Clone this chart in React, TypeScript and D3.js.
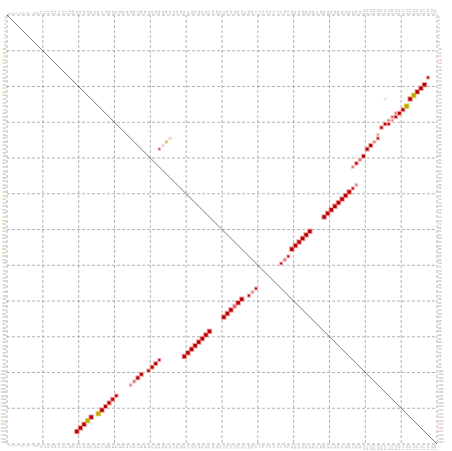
import * as d3 from "d3";

// 120 x 120 dot-plot matrix, one square per aligned cell
const N = 120;
const tickLabels = d3.range(1, N + 1).map(String);

// aligned cells: column, row, score, colour group (r = red, p = pale, y = yellow, f = faint)
const dotCol = [
  19, 20, 21, 22, 23, 25, 26, 27, 28, 29, 30, 34, 35, 36, 37, 39, 40, 41, 42,
  49, 50, 51, 52, 53, 54, 55, 56, 60, 61, 62, 63, 64, 65, 67, 68, 69,
  76, 77, 78, 79, 80, 81, 82, 83, 84, 88, 89, 90, 91, 92, 93, 94, 95, 96, 97,
  96, 97, 98, 99, 100, 101, 102, 103, 103, 104, 105, 106, 106, 107, 107, 108, 108,
  109, 110, 111, 112, 113, 114, 115, 116, 117,
  42, 43, 44, 45, 105,
];
const dotRow = [
  116, 115, 114, 113, 112, 111, 110, 109, 108, 107, 106, 103, 102, 101, 100, 99, 98, 97, 96,
  95, 94, 93, 92, 91, 90, 89, 88, 84, 83, 82, 81, 80, 79, 78, 77, 76,
  69, 68, 67, 65, 64, 63, 62, 61, 60, 56, 55, 54, 53, 52, 51, 50, 49, 48, 47,
  42, 41, 40, 39, 37, 36, 35, 34, 33, 31, 30, 30, 29, 29, 28, 28, 27,
  27, 26, 25, 23, 22, 21, 20, 19, 17,
  37, 36, 35, 34, 23,
];
const dotScore = [
  3, 3, 3, 3, 3, 3, 3, 2.6, 2.6, 2.6, 2, 1.5, 2, 2.5, 2.5, 2, 2.5, 2.5, 1.6,
  3, 3, 3, 3, 3, 3, 3, 3, 3, 3, 3, 2.8, 3, 3, 1.6, 1.6, 1.6,
  1.5, 2, 1.5, 3, 3, 3, 3, 3, 3, 3, 3, 3, 3, 3, 3, 3, 3, 1.6, 1.6,
  1.6, 2, 2, 2.5, 2.5, 2.5, 1.6, 1.6, 1.2, 2, 2, 1.8, 1.6, 1.3, 1, 2, 1.6,
  2.5, 2.5, 3, 3, 3, 3, 3, 3, 1.6,
  0.9, 1.3, 1, 1.5, 0.8,
];
const dotGroup = [
  "r", "r", "r", "y", "r", "y", "r", "r", "r", "r", "r", "p", "p", "r", "r", "r", "r", "r", "r",
  "r", "r", "r", "r", "r", "r", "r", "r", "r", "r", "r", "p", "r", "r", "r", "p", "r",
  "r", "p", "r", "r", "r", "r", "r", "r", "r", "r", "r", "r", "r", "r", "r", "r", "r", "r", "p",
  "p", "r", "p", "r", "r", "r", "p", "r", "p", "r", "r", "r", "p", "p", "r", "r", "p",
  "r", "r", "y", "r", "y", "r", "r", "r", "r",
  "r", "f", "y", "f", "f",
];

const coreColor: Record<string, string> = { r: "#b80000", p: "#dc7474", y: "#c0ac00", f: "#f0c4c4" };
const haloColor: Record<string, string> = { r: "#f0a4a4", p: "#f6cccc", y: "#e8da80", f: "#fbe6e6" };

export default function App() {
  const W = 452, H = 451;
  const left = 7, right = 437, top = 15, bottom = 444;

  const x = d3.scaleBand<number>().domain(d3.range(N)).range([left, right]);
  const y = d3.scaleBand<number>().domain(d3.range(N)).range([top, bottom]);
  const xl = d3.scaleLinear().domain([0, N]).range([left, right]);
  const yl = d3.scaleLinear().domain([0, N]).range([top, bottom]);
  const size = d3.scaleLinear().domain([0, 3]).range([0, 3.5]);

  const dots = dotCol.map((c, i) => ({ c, r: dotRow[i], s: dotScore[i], g: dotGroup[i] }));
  const grid = d3.range(0, N + 1, 10);

  return (
    <div style={{ position: "absolute", left: 0, top: 0 }}>
      <svg width={W} height={H} style={{ display: "block", background: "#fff" }}>
        {/* tick labels, one per residue */}
        <g fill="#8e8e8e" fontFamily="DejaVu Sans" fontSize={2.7}>
          {tickLabels.map((t, i) => (
            <text key={"l" + i} x={left - 1} y={y(i)! + y.bandwidth() / 2} textAnchor="end" dominantBaseline="central">{t}</text>
          ))}
          {tickLabels.map((t, i) => (
            <text key={"r" + i} x={right + 1} y={y(i)! + y.bandwidth() / 2} dominantBaseline="central">{t}</text>
          ))}
          {tickLabels.map((t, i) => (
            <text key={"t" + i} transform={`translate(${x(i)! + x.bandwidth() / 2},${top - 1}) rotate(-90)`} dominantBaseline="central">{t}</text>
          ))}
          {tickLabels.map((t, i) => (
            <text key={"b" + i} transform={`translate(${x(i)! + x.bandwidth() / 2},${bottom + 1}) rotate(-90)`} textAnchor="end" dominantBaseline="central">{t}</text>
          ))}
        </g>

        {/* dashed grid */}
        <g stroke="#a0a0a0" strokeWidth={0.8} strokeDasharray="3,2">
          {grid.map((g) => (
            <line key={"v" + g} x1={xl(g)} x2={xl(g)} y1={top} y2={bottom} />
          ))}
          {grid.map((g) => (
            <line key={"h" + g} x1={left} x2={right} y1={yl(g)} y2={yl(g)} />
          ))}
        </g>

        {/* main diagonal */}
        <line x1={xl(0)} y1={yl(0)} x2={xl(N)} y2={yl(N)} stroke="#222" strokeWidth={0.6} />

        {/* halos */}
        {dots.map((d, i) => {
          const s = size(d.s) + 2;
          const cx = x(d.c)! + x.bandwidth() / 2, cy = y(d.r)! + y.bandwidth() / 2;
          return <rect key={"h" + i} x={cx - s / 2} y={cy - s / 2} width={s} height={s} fill={haloColor[d.g]} />;
        })}
        {/* cores */}
        {dots.map((d, i) => {
          const s = size(d.s) * (d.g === "y" ? 1.15 : 1);
          const cx = x(d.c)! + x.bandwidth() / 2, cy = y(d.r)! + y.bandwidth() / 2;
          return <rect key={"c" + i} x={cx - s / 2} y={cy - s / 2} width={s} height={s} fill={coreColor[d.g]} />;
        })}
      </svg>
    </div>
  );
}
